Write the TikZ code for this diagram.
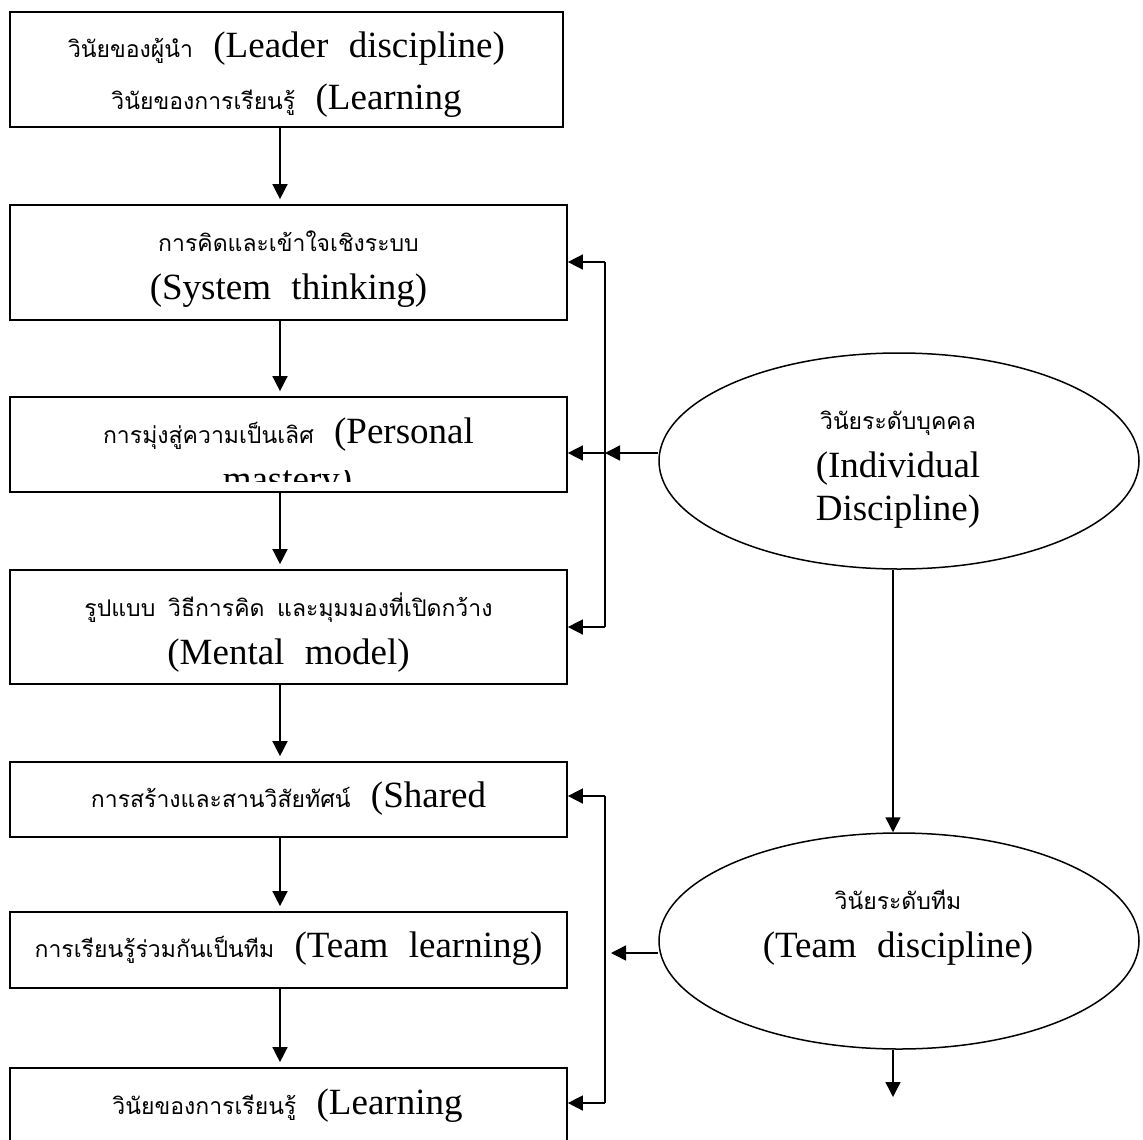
\documentclass[tikz,border=0pt]{standalone}
\usepackage{fontspec}
\setmainfont{Liberation Serif}
\newfontfamily\thaifont[Script=Thai]{Loma}
\usetikzlibrary{shapes.geometric,arrows.meta}
\newcommand\wsp{\hspace{0.55em}}
\newcommand\thx[1]{{\thaifont\fontsize{23}{27}\selectfont #1}}
\begin{document}
\begin{tikzpicture}[x=1pt,y=-1pt,
  line width=1.5pt,
  boxn/.style={draw,rectangle,inner sep=0pt,line width=1.7pt},
  ellp/.style={draw,ellipse,inner sep=0pt,line width=1.5pt,minimum width=480pt,minimum height=216pt},
  txt/.style={anchor=base,inner sep=0pt,font=\fontsize{37}{40}\selectfont},
  arr/.style={-{Triangle[length=15pt,width=15pt]}},
  ln/.style={line width=1.5pt}]
\clip (0,0) rectangle (1143,1140);
\fill[white] (0,0) rectangle (1143,1140);
% boxes
\node[boxn,minimum width=553pt,minimum height=115pt] (b1) at (286.5,69.5) {};
\node[boxn,minimum width=557pt,minimum height=115pt] (b2) at (288.5,262.5) {};
\node[boxn,minimum width=557pt,minimum height=95pt] (b3) at (288.5,444.5) {};
\node[boxn,minimum width=557pt,minimum height=114pt] (b4) at (288.5,627) {};
\node[boxn,minimum width=557pt,minimum height=75pt] (b5) at (288.5,799.5) {};
\node[boxn,minimum width=557pt,minimum height=76pt] (b6) at (288.5,950) {};
\node[boxn,minimum width=557pt,minimum height=90pt] (b7) at (288.5,1113) {};
% ellipses
\node[ellp] (e1) at (899,461) {};
\node[ellp] (e2) at (899,941) {};
% texts
\node[txt] (t1a) at (286.5,58) {\thx{วินัยของผู้นำ}\wsp(Leader\wsp discipline)};
\node[txt] (t1b) at (286.5,109) {\thx{วินัยของการเรียนรู้}\wsp(Learning};
\node[txt] (t2a) at (288.5,251) {\thx{การคิดและเข้าใจเชิงระบบ}};
\node[txt] (t2b) at (288.5,299) {(System\wsp thinking)};
\node[txt] (t3a) at (288.5,443) {\thx{การมุ่งสู่ความเป็นเลิศ}\wsp(Personal};
\begin{scope}
\clip (10,470) rectangle (567,481);
\node[txt] (t3b) at (287.5,491) {mastery)};
\end{scope}
\node[txt] (t4a) at (288.5,616) {\thx{รูปแบบ\wsp วิธีการคิด\wsp และมุมมองที่เปิดกว้าง}};
\node[txt] (t4b) at (288.5,664) {(Mental\wsp model)};
\node[txt] (t5) at (288.5,807) {\thx{การสร้างและสานวิสัยทัศน์}\wsp(Shared};
\node[txt] (t6) at (288.5,957) {\thx{การเรียนรู้ร่วมกันเป็นทีม}\wsp(Team\wsp learning)};
\node[txt] (t7) at (287.5,1114) {\thx{วินัยของการเรียนรู้}\wsp(Learning};
\node[txt] (te1a) at (898,429) {\thx{วินัยระดับบุคคล}};
\node[txt] (te1b) at (898,477) {(Individual};
\node[txt] (te1c) at (898,520) {Discipline)};
\node[txt] (te2a) at (898,909) {\thx{วินัยระดับทีม}};
\node[txt] (te2b) at (898,957) {(Team\wsp discipline)};
% spine and junction coordinates
\coordinate (sx) at (280,0);
\coordinate (ex) at (893,0);
\coordinate (j1) at (605,262);
\coordinate (j3) at (605,453);
\coordinate (j2) at (605,627);
\coordinate (j4) at (605,796);
\coordinate (j6) at (605,953);
\coordinate (j5) at (605,1103);
\coordinate (e2out) at (893,1097);
% vertical flow
\foreach \a/\b in {b1/b2,b2/b3,b3/b4,b4/b5,b5/b6,b6/b7}
  \draw[arr,ln,shorten >=5pt] (\a.south -| sx) -- (\b.north -| sx);
% right rails
\draw[ln] (j1) -- (j2);
\draw[arr,ln] (j1) -- (b2.east |- j1);
\draw[arr,ln] (j3) -- (b3.east |- j3);
\draw[arr,ln] (j2) -- (b4.east |- j2);
\draw[arr,ln] (e1.west |- j3) -- (j3);
\draw[ln] (j4) -- (j5);
\draw[arr,ln] (j4) -- (b5.east |- j4);
\draw[arr,ln] (j5) -- (b7.east |- j5);
\draw[arr,ln,shorten >=6pt] (e2.west |- j6) -- (j6);
% ellipse flow
\draw[arr,ln] (e1.south -| ex) -- (e2.north -| ex);
\draw[arr,ln] (e2.south -| ex) -- (e2out);
\end{tikzpicture}
\end{document}
